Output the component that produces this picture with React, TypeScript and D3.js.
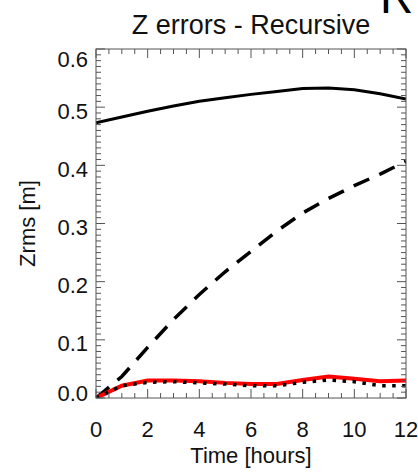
import React from "react";
import * as d3 from "d3";

const hours = [0, 1, 2, 3, 4, 5, 6, 7, 8, 9, 10, 11, 12];
const solidSeries = [0.473, 0.483, 0.493, 0.502, 0.510, 0.516, 0.522, 0.527, 0.532, 0.533, 0.530, 0.523, 0.514];
const dashedSeries = [0, 0.037, 0.087, 0.135, 0.178, 0.217, 0.252, 0.287, 0.318, 0.343, 0.365, 0.385, 0.407];
const redSeries = [0, 0.021, 0.030, 0.030, 0.029, 0.026, 0.024, 0.024, 0.031, 0.037, 0.033, 0.029, 0.030];
const dottedSeries = [0, 0.021, 0.027, 0.028, 0.026, 0.024, 0.021, 0.021, 0.027, 0.031, 0.028, 0.021, 0.021];
const xTicks = [0, 2, 4, 6, 8, 10, 12];
const yTicks = [0, 0.1, 0.2, 0.3, 0.4, 0.5, 0.6];
const title = "Z errors - Recursive";
const xLabel = "Time [hours]";
const yLabel = "Zrms [m]";
const panelLetter = "R";

const W = 418;
const H = 472;
const L = 96, R = 406, T = 49, B = 398;
const FONT = "'Liberation Sans', Arial, Helvetica, sans-serif";

export default function App() {
  const x = d3.scaleLinear().domain([0, 12]).range([L, R]);
  const y = d3.scaleLinear().domain([0, 0.6]).range([B, T]);
  const line = (vals: number[]) =>
    d3.line<number>().x((_, i) => x(hours[i])).y((v) => y(v))(vals) || "";

  const xMinor = d3.range(0, 12.0001, 0.5);
  const yMinor = d3.range(0, 0.6001, 0.01);
  const axisColor = "#555";

  return (
    <svg width={W} height={H} style={{ position: "absolute", left: 0, top: 0, background: "#fff" }}>
      <rect x={0} y={0} width={W} height={H} fill="#fff" />
      {/* panel letter */}
      <text x={380} y={13} fontFamily={FONT} fontSize={46} fill="#000">{panelLetter}</text>
      {/* title */}
      <text x={(L + R) / 2} y={34} textAnchor="middle" fontFamily={FONT} fontSize={27} fill="#111">{title}</text>

      {/* data lines */}
      <g fill="none" clipPath="url(#clip)">
        <path d={line(solidSeries)} stroke="#000" strokeWidth={3} />
        <path d={line(dashedSeries)} stroke="#000" strokeWidth={3.5} strokeDasharray="17,11" />
        <path d={line(redSeries)} stroke="#ff0000" strokeWidth={4} />
        <path d={line(dottedSeries)} stroke="#000" strokeWidth={3.5} strokeDasharray="3.5,6.5" />
      </g>
      <defs>
        <clipPath id="clip">
          <rect x={L} y={T - 5} width={R - L} height={B - T + 5} />
        </clipPath>
      </defs>

      {/* frame */}
      <rect x={L} y={T} width={R - L} height={B - T} fill="none" stroke={axisColor} strokeWidth={1} />

      {/* x ticks (bottom & top) */}
      {xMinor.map((v, i) => {
        const major = Math.abs(v / 2 - Math.round(v / 2)) < 1e-6;
        const len = major ? 9 : 5;
        return (
          <g key={"xt" + i} stroke={axisColor} strokeWidth={1}>
            <line x1={x(v)} x2={x(v)} y1={B} y2={B - len} />
            <line x1={x(v)} x2={x(v)} y1={T} y2={T + len} />
          </g>
        );
      })}
      {/* y ticks (left & right) */}
      {yMinor.map((v, i) => {
        const major = i % 10 === 0;
        const len = major ? 9 : 5;
        return (
          <g key={"yt" + i} stroke={axisColor} strokeWidth={1}>
            <line x1={L} x2={L + len} y1={y(v)} y2={y(v)} />
            <line x1={R} x2={R - len} y1={y(v)} y2={y(v)} />
          </g>
        );
      })}

      {/* x tick labels */}
      {xTicks.map((v) => (
        <text key={"xl" + v} x={x(v)} y={437} textAnchor="middle" fontFamily={FONT} fontSize={22} fill="#111">
          {String(v)}
        </text>
      ))}
      {/* y tick labels */}
      {yTicks.map((v) => {
        const cy = Math.min(Math.max(y(v) + 3.5, T + 10), B - 5);
        return (
          <text key={"yl" + v} x={88} y={cy} dy="0.36em" textAnchor="end" fontFamily={FONT} fontSize={22} fill="#111">
            {d3.format(".1f")(v)}
          </text>
        );
      })}

      {/* axis labels */}
      <text x={(L + R) / 2} y={463} textAnchor="middle" fontFamily={FONT} fontSize={22} fill="#111">{xLabel}</text>
      <text transform={`translate(35, ${(T + B) / 2}) rotate(-90)`} textAnchor="middle" fontFamily={FONT} fontSize={22} fill="#111">
        {yLabel}
      </text>
    </svg>
  );
}
